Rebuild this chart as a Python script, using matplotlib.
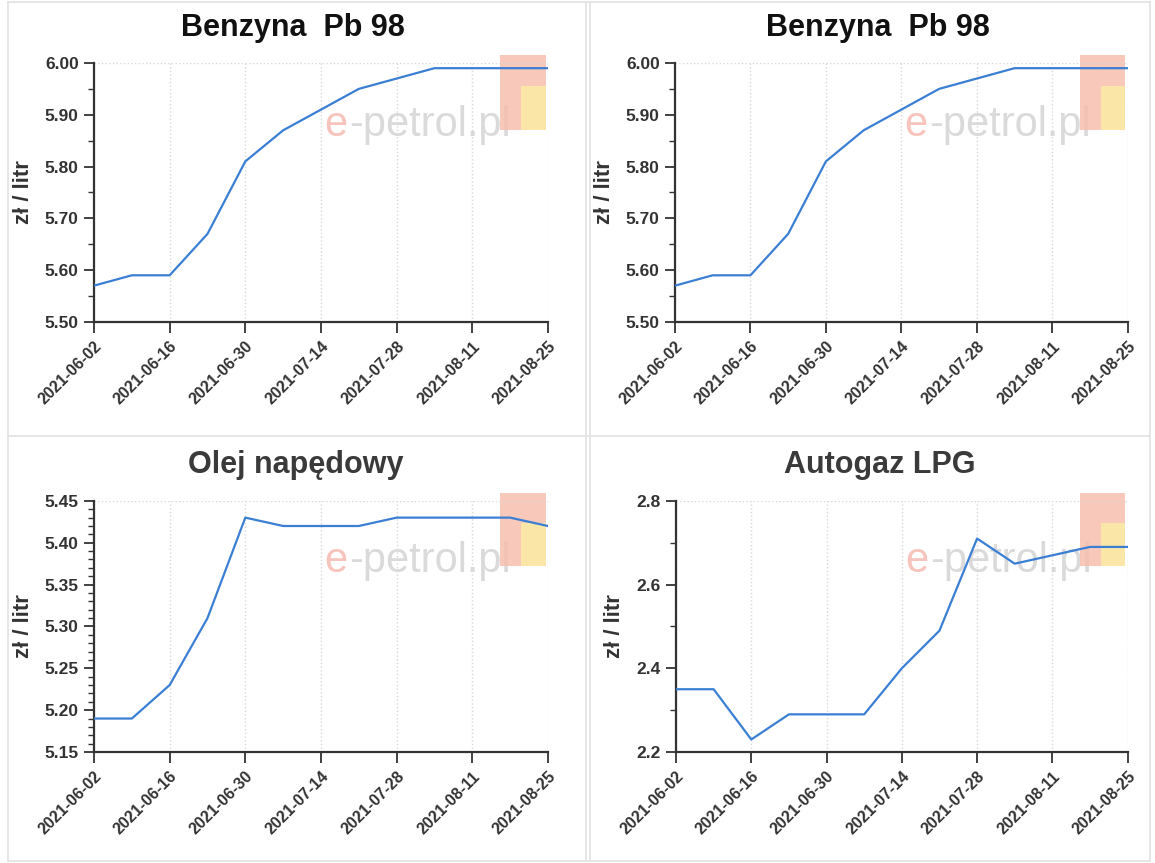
import numpy as np
import pandas as pd
import matplotlib
matplotlib.use('Agg')
import matplotlib.pyplot as plt
from matplotlib.ticker import MultipleLocator, FormatStrFormatter
from matplotlib.lines import Line2D

plt.rcParams['font.family'] = ['Liberation Sans', 'DejaVu Sans']

# dane tygodniowe (zł / litr)
dates = ['2021-06-02', '2021-06-09', '2021-06-16', '2021-06-23', '2021-06-30',
         '2021-07-07', '2021-07-14', '2021-07-21', '2021-07-28', '2021-08-04',
         '2021-08-11', '2021-08-18', '2021-08-25']
pb98 = [5.57, 5.59, 5.59, 5.67, 5.81, 5.87, 5.91, 5.95, 5.97, 5.99, 5.99, 5.99, 5.99]
on = [5.19, 5.19, 5.23, 5.31, 5.43, 5.42, 5.42, 5.42, 5.43, 5.43, 5.43, 5.43, 5.42]
lpg = [2.35, 2.35, 2.23, 2.29, 2.29, 2.29, 2.40, 2.49, 2.71, 2.65, 2.67, 2.69, 2.69]
tick_dates = ['2021-06-02', '2021-06-16', '2021-06-30', '2021-07-14',
              '2021-07-28', '2021-08-11', '2021-08-25']

titles = ['Benzyna  Pb 98', 'Benzyna  Pb 98', 'Olej napędowy', 'Autogaz LPG']
series = [pb98, pb98, on, lpg]
ylims = [(5.50, 6.00), (5.50, 6.00), (5.15, 5.45), (2.2, 2.8)]
ymaj = [0.10, 0.10, 0.05, 0.2]
ymin = [0.05, 0.05, 0.01, 0.1]
yfmt = ['%.2f', '%.2f', '%.2f', '%.1f']

# pozycje osi [left, bottom, width, height]
pos = [[0.0814, 0.627, 0.393, 0.300],
       [0.5844, 0.627, 0.392, 0.300],
       [0.0814, 0.1286, 0.393, 0.291],
       [0.5853, 0.1286, 0.391, 0.291]]
# środki tytułów (współrzędne figury)
title_xy = [(0.254, 0.967), (0.760, 0.967), (0.256, 0.461), (0.762, 0.461)]

x = pd.to_datetime(dates)
xt = pd.to_datetime(tick_dates)

fig = plt.figure(figsize=(11.55, 8.63), dpi=100)
fig.patch.set_facecolor('white')

# ramki paneli
for xx in [0.007, 0.507, 0.511, 0.996]:
    fig.add_artist(Line2D([xx, xx], [0.002, 0.998], color='#e4e4e4', lw=1.3))
for yy in [0.495, 0.002, 0.998]:
    fig.add_artist(Line2D([0.007, 0.996], [yy, yy], color='#e4e4e4', lw=1.3))

for i in range(4):
    ax = fig.add_axes(pos[i])
    # znak wodny
    ax.text(0.558, 0.76, 'e', transform=ax.transAxes, fontsize=30, color='#f6c4bc',
            ha='right', va='center', zorder=0)
    ax.text(0.562, 0.76, '-petrol.pl', transform=ax.transAxes, fontsize=30, color='#dadada',
            ha='left', va='center', zorder=0)
    ax.add_patch(plt.Rectangle((0.895, 0.74), 0.1, 0.29, transform=ax.transAxes,
                               color='#f7bfae', alpha=0.85, zorder=0, lw=0, clip_on=False))
    ax.add_patch(plt.Rectangle((0.94, 0.74), 0.055, 0.17, transform=ax.transAxes,
                               color='#fbeba6', alpha=0.9, zorder=0, lw=0, clip_on=False))

    ax.plot(x, series[i], color='#3b7fd4', lw=1.6, zorder=3)
    ax.set_xlim(xt[0], xt[-1])
    ax.set_ylim(*ylims[i])
    ax.set_xticks(xt)
    ax.set_xticklabels(tick_dates, rotation=45, ha='right', rotation_mode='anchor',
                       fontsize=11.5, fontweight='bold', color='#333333')
    ax.yaxis.set_major_locator(MultipleLocator(ymaj[i]))
    ax.yaxis.set_minor_locator(MultipleLocator(ymin[i]))
    ax.yaxis.set_major_formatter(FormatStrFormatter(yfmt[i]))
    for lab in ax.get_yticklabels():
        lab.set_fontsize(12.5)
        lab.set_fontweight('bold')
        lab.set_color('#333333')
    ax.tick_params(axis='y', which='major', length=7, width=1.3, color='#333333', pad=4)
    ax.tick_params(axis='y', which='minor', length=4, width=1.0, color='#333333')
    ax.tick_params(axis='x', which='major', length=8, width=1.3, color='#333333', pad=4)
    ax.grid(axis='x', color='#d8d8d8', linestyle=':', lw=1.0, zorder=1)
    ax.axhline(ylims[i][1], color='#d8d8d8', linestyle=':', lw=1.0, zorder=1)
    for s in ['top', 'right']:
        ax.spines[s].set_visible(False)
    for s in ['left', 'bottom']:
        ax.spines[s].set_color('#333333')
        ax.spines[s].set_linewidth(1.6)
    fig.text(title_xy[i][0], title_xy[i][1], titles[i], fontsize=22, fontweight='bold',
             color='#111111' if i < 2 else '#3a3a3a', ha='center', va='center')
    ax.set_ylabel('zł / litr', fontsize=16, fontweight='bold', color='#333333', labelpad=8)

fig.savefig('out.png', dpi=100)
